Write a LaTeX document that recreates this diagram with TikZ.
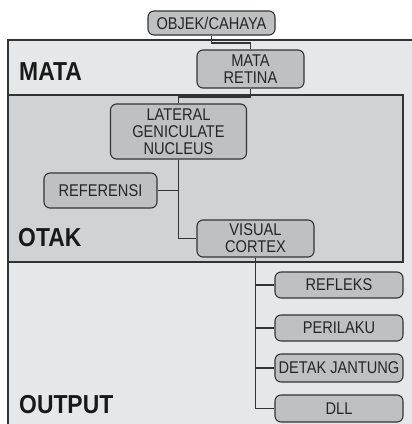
\documentclass[tikz,border=0pt]{standalone}
\usepackage{fontspec}
\setmainfont{Liberation Sans}
\newfontfamily\boxfont{Liberation Sans}[FakeStretch=0.86]
\newfontfamily\zonefont{Liberation Sans}[FakeStretch=0.88]
\definecolor{zonelight}{HTML}{E6E7E8}
\definecolor{zonedark}{HTML}{D1D2D4}
\definecolor{boxfill}{HTML}{BFC0C2}
\definecolor{edge}{HTML}{333333}
\begin{document}
\begin{tikzpicture}[x=1pt,y=1pt,
  stagebox/.style={draw=edge, fill=boxfill, line width=1.1pt, rounded corners=6pt,
    align=center, inner sep=0pt, font=\boxfont\fontsize{17}{17}\selectfont, text=black!85},
  zonelabel/.style={anchor=west, inner sep=0pt, font=\zonefont\bfseries\fontsize{26}{26}\selectfont, text=black!90},
  link/.style={draw=edge, line width=1.1pt}]
\useasboundingbox (0,0) rectangle (412,-424);
% background zones
\fill[zonelight] (8,-40) rectangle (420,-430);
\draw[edge, line width=1.4pt] (420,-40) -- (8,-40) -- (8,-430);
\draw[edge, line width=1.4pt, fill=zonedark] (8,-95) rectangle (403,-262);
% zone labels
\node[zonelabel] (lmata) at (19,-72) {MATA};
\node[zonelabel] (lotak) at (18,-238) {OTAK};
\node[zonelabel] (lout) at (19,-405) {OUTPUT};
% junction heights
\coordinate (j1) at (0,-43);
\coordinate (j2) at (0,-97);
% stages
\node[stagebox, minimum width=127pt, minimum height=24pt] (objek) at (211.5,-23) {OBJEK/CAHAYA};
\node[stagebox, minimum width=107pt, minimum height=38pt] (mata) at (250.5,-69) {MATA\\RETINA};
\node[stagebox, minimum width=136pt, minimum height=55pt] (lgn) at (178.5,-131.5) {LATERAL\\GENICULATE\\NUCLEUS};
\node[stagebox, minimum width=113pt, minimum height=35pt] (ref) at (100.5,-190.5) {REFERENSI};
\node[stagebox, minimum width=117pt, minimum height=37pt] (vc) at (255.5,-238.5) {VISUAL\\CORTEX};
\node[stagebox, minimum width=128pt, minimum height=26pt] (o1) at (339,-285) {REFLEKS};
\node[stagebox, minimum width=128pt, minimum height=26pt] (o2) at (339,-328) {PERILAKU};
\node[stagebox, minimum width=128pt, minimum height=28pt] (o3) at (339,-368) {DETAK JANTUNG};
\node[stagebox, minimum width=128pt, minimum height=27pt] (o4) at (339,-408.5) {DLL};
% connectors
\draw[link] (objek.south) -- (objek.south |- j1) -- (mata.north |- j1) -- (mata.north);
\draw[link] (mata.south) -- (mata.south |- j2) -- (lgn.north |- j2) -- (lgn.north);
\draw[link] (lgn.south) |- (vc.west);
\draw[link] (ref.east) -- (ref.east -| lgn.south);
\draw[link] (vc.south) |- (o4.west);
\draw[link] (vc.south |- o1.west) -- (o1.west);
\draw[link] (vc.south |- o2.west) -- (o2.west);
\draw[link] (vc.south |- o3.west) -- (o3.west);
\end{tikzpicture}
\end{document}
